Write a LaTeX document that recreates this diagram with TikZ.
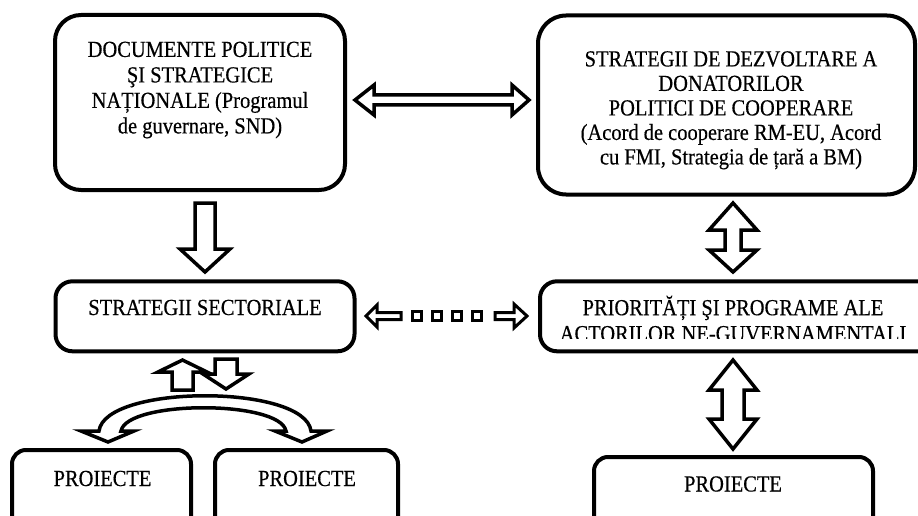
\documentclass[tikz,border=0pt]{standalone}
\usepackage{fontspec}
\setmainfont{Liberation Serif}[FakeStretch=0.89, FakeBold=0.4]
\begin{document}
\begin{tikzpicture}[x=1pt,y=-1pt,
  box/.style={draw, line width=4pt, fill=white, inner sep=0pt},
  boxtext/.style={align=center, inner sep=0pt},
  blockarrow/.style={draw, line width=3.5pt, fill=white, line join=miter, miter limit=10},
  dotarrow/.style={draw, line width=3pt, fill=white, line join=miter, miter limit=10},
]
\clip (0,0) rectangle (918,516);
\fill[white] (0,0) rectangle (918,516);

% ---------- boxes ----------
\node[box, rounded corners=26pt, minimum width=290pt, minimum height=175pt] (docs) at (200,102.5) {};
\node[box, rounded corners=28pt, minimum width=377pt, minimum height=179pt] (donors) at (726.5,105) {};
\node[box, rounded corners=17pt, minimum width=299pt, minimum height=70pt] (sector) at (205,316.3) {};
\node[box, rounded corners=17pt, minimum width=400pt, minimum height=70pt] (ngo) at (740,316.3) {};
\node[box, rounded corners=14pt, minimum width=179pt, minimum height=90pt] (projA) at (101.5,495) {};
\node[box, rounded corners=14pt, minimum width=183pt, minimum height=90pt] (projB) at (306.5,495) {};
\node[box, rounded corners=14pt, minimum width=279pt, minimum height=83pt] (projC) at (733.5,498.5) {};

% ---------- texts ----------
\node[boxtext, anchor=north, font=\fontsize{23}{25.5}\selectfont] (docsT) at (200,41.5)
  {DOCUMENTE POLITICE\\ŞI STRATEGICE\\NAȚIONALE (Programul\\de guvernare, SND)};
\node[boxtext, anchor=north, font=\fontsize{23}{24.5}\selectfont] (donorsT) at (731,51)
  {STRATEGII DE DEZVOLTARE A\\DONATORILOR\\POLITICI DE COOPERARE\\(Acord de cooperare RM-EU, Acord\\cu FMI, Strategia de țară a BM)};
\node[boxtext, anchor=base, font=\fontsize{23}{24.5}\selectfont] (sectorT) at (205,315) {STRATEGII SECTORIALE};
\begin{scope}
  \clip (545,290) rectangle (918,338);
  \node[boxtext, anchor=north, font=\fontsize{23}{26}\selectfont] (ngoT) at (733,299.8)
    {PRIORIT\smash{Ă}ȚI ŞI PROGRAME ALE\\ACTORILOR NE-GUVERNAMENTALI};
\end{scope}
\node[boxtext, anchor=base, font=\fontsize{23}{24.5}\selectfont] (projAT) at (102.5,486) {PROIECTE};
\node[boxtext, anchor=base, font=\fontsize{23}{24.5}\selectfont] (projBT) at (307,486) {PROIECTE};
\node[boxtext, anchor=base, font=\fontsize{23}{24.5}\selectfont] (projCT) at (733,491.5) {PROIECTE};

% ---------- block arrows ----------
% national documents <-> donor strategies
\draw[blockarrow] (355,100) -- (374,85) -- (374,95) -- (512,95) -- (512,85) -- (529,100)
  -- (512,115) -- (512,105) -- (374,105) -- (374,115) -- cycle;
% national documents -> sectoral strategies
\draw[blockarrow] (195,203) -- (215,203) -- (215,249) -- (230,249) -- (205,272)
  -- (180,249) -- (195,249) -- cycle;
% donor strategies <-> NGO priorities
\draw[blockarrow] (733,203) -- (757,230) -- (741,230) -- (741,250) -- (757,250) -- (733,272)
  -- (709,250) -- (725,250) -- (725,230) -- (709,230) -- cycle;
% NGO priorities <-> projects
\draw[blockarrow] (733,360) -- (757,390) -- (744,390) -- (744,419) -- (757,419) -- (733,449)
  -- (709,419) -- (722,419) -- (722,390) -- (709,390) -- cycle;
% sectoral strategies up/down
\draw[blockarrow] (182.5,360) -- (207,372) -- (193,372) -- (193,390) -- (172,390)
  -- (172,372) -- (158,372) -- cycle;
\draw[blockarrow] (215,359) -- (237,359) -- (237,374) -- (249,374) -- (226,389)
  -- (203,374) -- (215,374) -- cycle;
% curved split arrow to the two projects
\draw[blockarrow] (81,431) -- (99,431) .. controls (105,384) and (305,384) .. (311,431)
  -- (327,431) -- (302,442) -- (275,431) -- (286,431)
  .. controls (280,400) and (127,400) .. (121,431) -- (134,431) -- (108,442) -- cycle;
% dotted double arrow between sectoral strategies and NGO priorities
\draw[dotarrow] (366,316) -- (377,305) -- (377,312.5) -- (401,312.5) -- (401,319.5)
  -- (377,319.5) -- (377,327) -- cycle;
\draw[dotarrow] (527,316) -- (514,304) -- (514,312.5) -- (495,312.5) -- (495,319.5)
  -- (514,319.5) -- (514,328) -- cycle;
\foreach \cx in {417,437,457,477}
  \draw[dotarrow] (\cx-4.5,311.5) rectangle (\cx+4.5,320.5);
\end{tikzpicture}
\end{document}
